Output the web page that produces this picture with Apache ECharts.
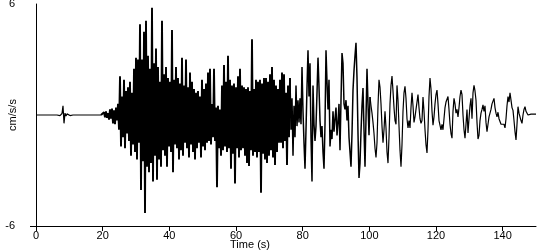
<!DOCTYPE html>
<html>
<head>
<meta charset="utf-8">
<script src="https://cdn.jsdelivr.net/npm/echarts@6/dist/echarts.min.js"></script>
<style>
html,body{margin:0;padding:0;background:#fff;}
#chart{width:550px;height:250px;}
</style>
</head>
<body>
<div id="chart"></div>
<script>
// Sampling step of the record (s)
const dt = 0.3;
// Segment start times (s)
const segStarts = [0, 19.8, 31.5, 49.5, 76.5, 100.5, 130.5];
// Acceleration values (cm/s/s) per segment
const quietValues = [0,0,0,0,0,0,0,0,0,0,0,0,0,0,0,0,0,0,0,0,0,0,0,
  0.03,-0.03,0,0.08,0.5,-0.45,0.1,-0.05,0.06,-0.04,0.05,-0.03,
  0,0,0,0,0,0,0,0,0,0,0,0,0,0,0,0,0,0,0,0,0,0,0,0,0,0,0,0,0,0,0];
const onsetValues = [0.05,-0.1,0.15,-0.12,0.2,-0.15,0.1,-0.25,0.3,-0.2,0.35,-0.45,0.25,-0.5,0.4,-0.3,
  0.6,-0.8,2.1,-1.7,1.0,-1.2,1.9,-1.8,1.3,-1.0,1.5,-1.4,1.8,-2.2,1.2,-1.6,2.5,-2.0,3.1,-2.4,3.0,-1.5,4.9];
const strongValues = [-4.05,3.0,-2.5,4.5,-5.3,5.1,-2.8,3.2,-3.1,2.5,-2.6,5.8,-3.6,2.8,-2.2,3.6,-3.5,2.6,-2.4,1.8,
  -2.8,5.1,-1.9,2.2,-2.2,2.6,-2.8,2.0,-1.7,1.8,-2.0,4.6,-3.1,1.9,-1.6,2.6,-1.8,2.0,-2.4,1.7,
  -1.9,3.1,-2.2,1.6,-1.5,3.0,-1.8,1.5,-2.3,2.3,-1.6,1.8,-2.0,1.4,-2.4,1.2,-1.8,1.3,-1.5,1.0];
const codaValues1 = [-2.3,1.9,-1.7,1.4,-1.9,1.7,-1.5,2.3,-1.4,2.5,
  -1.6,0.6,-1.2,2.5,-1.4,0.4,-3.9,0.5,-1.8,0.3,
  -2.2,1.6,-1.9,2.7,-1.7,1.8,-2.0,3.2,-1.8,1.9,
  -2.9,1.6,-2.1,1.7,-3.7,1.5,-1.8,2.1,-2.3,2.5,
  -1.9,1.6,-1.8,1.5,-2.2,1.4,-2.6,1.5,-2.75,1.3,
  -1.9,4.1,-2.2,1.4,-2.0,1.9,-2.3,1.8,-2.0,1.9,
  -4.2,1.7,-2.1,2.0,-2.4,2.0,-2.6,1.8,-2.2,2.2,
  -1.9,2.6,-2.3,1.9,-2.7,1.6,-2.0,1.4,-1.5,1.9,
  -1.5,2.3,-1.8,2.2,-1.4,1.2,-2.7,1.6,-1.2,2.0];
const codaValues2 = [-0.8,0.9,-2.2,0.5,-1.2,1.6,-0.6,0.8,-0.4,0.9,
  -0.5,2.6,0.2,-1.5,-2.9,-0.8,1.5,3.5,1.0,2.8,
  -1.2,-3.6,1.6,-0.5,-1.4,-0.6,1.2,3.1,1.5,-0.3,
  -1.2,-0.6,-2.0,-2.9,-0.5,3.5,1.8,0.3,1.9,-1.7,
  -0.8,-1.3,0.2,-0.9,-0.2,0.4,-1.1,-0.4,0.6,-1.9,
  0.8,3.35,2.8,0.6,0.3,0.8,-0.3,0.5,-1.2,-2.0,
  -2.8,-1.0,1.35,2.4,3.2,3.9,2.0,-1.0,-3.4,-2.6,
  -0.9,0.5,1.46,-0.8,-2.8,-0.2,2.5,0.6,-1.1,0.97];
const codaValues3 = [0.5,0.1,-0.4,-1.0,-1.8,-2.3,-1.5,0.5,1.9,1.5,
  0.6,-0.6,-1.5,-0.8,0.2,-0.7,-2.0,-2.6,-1.2,0.6,
  1.6,2.1,1.3,0.4,-0.3,-0.5,1.6,0.8,-0.6,-1.9,
  -2.8,-1.6,0.2,1.2,1.55,0.9,-0.2,-0.7,-0.3,-0.7,
  0.4,1.2,0.5,-0.4,-0.1,0.3,0.7,1.1,0.4,-0.2,
  -0.45,-0.3,0.97,0.2,-0.8,-1.6,-2.05,-0.8,1.0,2.0,
  1.4,0.2,-0.55,-0.1,0.6,1.1,1.35,0.6,-0.3,-0.4,
  -0.8,-0.5,-0.8,-0.2,0.4,0.7,0.8,1.0,0.3,-0.5,
  -1.0,-1.25,0.2,0.9,0.6,0.1,0.3,-0.1,0.4,1.0,
  1.35,1.1,0.0,-0.8,-1.25,-0.5,0.3,-0.97,-0.2,0.5];
const tailValues = [0.9,-0.2,1.2,1.6,1.3,0.8,-0.4,-1.3,-1.1,-0.3,
  0.1,0.3,0.55,0.2,0.5,-0.4,-0.9,-0.5,-0.1,0.1,
  0.3,0.6,0.5,0.9,0.4,0.1,-0.1,0.15,-0.2,-0.3,
  -0.5,-0.45,-0.6,-0.5,-0.7,-0.2,0.5,1.0,0.7,1.2,
  0.8,0.4,0.25,-0.3,-0.9,-1.35,-0.5,0.45,0.1,-0.1,
  -0.3,-0.45,0.0,0.3,0.45,0.2,0.3,0.0,0.05,0.05,
  0.05,0.05,0.05,0.05,0.05,0.05];
const xTicks = [0,20,40,60,80,100,120,140];
const yTicks = [-6,6];

const segValues = [quietValues, onsetValues, strongValues, codaValues1, codaValues2, codaValues3, tailValues];
// group segments: quiet | dense shaking | busy coda | late coda (drawn as one continuous trace)
const groups = [[0], [1,2,3], [4], [5,6]];
const groupData = groups.map(function(){ return []; });
let lastPoint = null;
groups.forEach(function(g, gi){
  if (lastPoint) groupData[gi].push(lastPoint);
  g.forEach(function(s){
    segValues[s].forEach(function(v, k){
      const p = [+(segStarts[s] + k*dt).toFixed(2), v];
      groupData[gi].push(p);
      lastPoint = p;
    });
  });
});
const groupWidths = [1.2, 1.9, 1.5, 1.2];

const font = 'Liberation Sans, Arial, sans-serif';
const chart = echarts.init(document.getElementById('chart'), null, {renderer:'canvas'});
chart.setOption({
  animation:false,
  backgroundColor:'#ffffff',
  grid:{left:36, right:14, top:4, bottom:24, containLabel:false, outerBoundsMode:'none'},
  xAxis:{
    type:'value', min:0, max:150,
    axisLine:{show:true, onZero:false, lineStyle:{color:'#000', width:1}},
    axisTick:{show:true, inside:false, length:5, customValues:xTicks, lineStyle:{color:'#000'}},
    axisLabel:{show:true, customValues:xTicks, margin:4, color:'#000', fontSize:11, fontFamily:font},
    splitLine:{show:false},
    name:'Time (s)', nameLocation:'middle', nameGap:13, nameMoveOverlap:false,
    nameTextStyle:{color:'#000', fontSize:11, fontFamily:font, padding:[0,72,0,0]}
  },
  yAxis:{
    type:'value', min:-6, max:6,
    axisLine:{show:true, onZero:false, lineStyle:{color:'#000', width:1}},
    axisTick:{show:true, length:6, customValues:[-6], lineStyle:{color:'#000'}},
    axisLabel:{show:true, customValues:yTicks, margin:21, color:'#000', fontSize:11, fontFamily:font},
    splitLine:{show:false},
    name:'cm/s/s', nameLocation:'middle', nameGap:18, nameRotate:90, nameMoveOverlap:false,
    nameTextStyle:{color:'#000', fontSize:11, fontFamily:font}
  },
  series: groupData.map(function(d, i){
    return {
      type:'line', data:d, showSymbol:false, symbol:'none',
      lineStyle:{color:'#000', width:groupWidths[i]}, sampling:null, silent:true
    };
  })
});
</script>
</body>
</html>
